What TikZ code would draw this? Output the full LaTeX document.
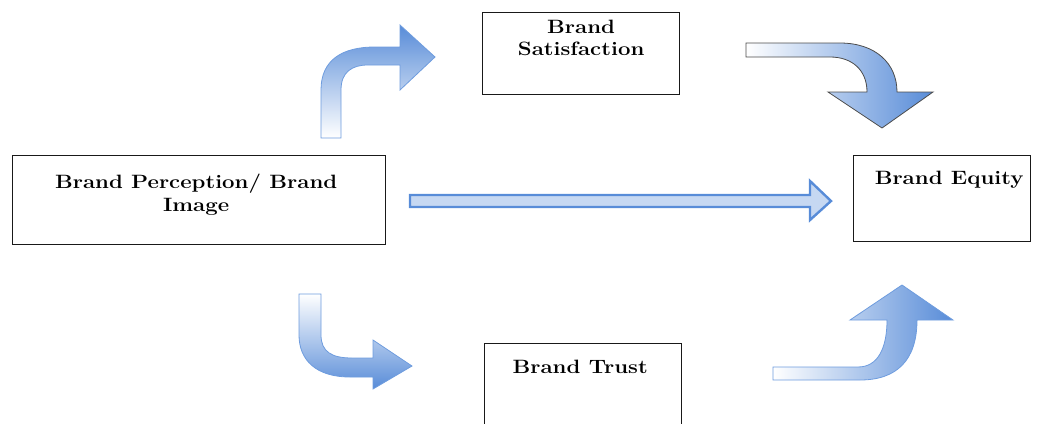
\documentclass[tikz,border=0pt]{standalone}
\usepackage{tikz}
\usetikzlibrary{calc}
\definecolor{flowblue}{RGB}{88,140,216}
\definecolor{flowedge}{RGB}{110,156,222}
\definecolor{flowpale}{RGB}{198,216,242}
\definecolor{boxedge}{RGB}{25,25,25}
\newcommand{\widetext}[1]{\scalebox{1.15}[1]{#1}}
\begin{document}
\begin{tikzpicture}[x=1pt,y=-1pt,
  box/.style={draw=boxedge, line width=1.3pt, rectangle, inner sep=0pt, anchor=north west},
  lbl/.style={font=\fontsize{19.3}{23}\selectfont\bfseries, align=center, inner sep=0pt, anchor=base},
  bendarrow/.style={draw=flowedge, line width=0.8pt, line join=miter},
  darkarrow/.style={draw=black!70, line width=0.8pt, line join=miter},
  straightarrow/.style={draw=flowblue, line width=2.4pt, fill=flowpale, line join=miter}]
\useasboundingbox (0,0) rectangle (1043,423);

% boxes
\node[box, minimum width=373pt, minimum height=89pt] (perc) at (12,155) {};
\node[box, minimum width=197pt, minimum height=82pt] (sat) at (482,12) {};
\node[box, minimum width=177pt, minimum height=86pt] (eq) at (853,155) {};
\node[box, minimum width=197pt, minimum height=95pt] (trust) at (484,343) {};

% labels
\node[lbl] (percA) at ($(perc.north)+(-3,33)$) {\widetext{Brand Perception/ Brand}};
\node[lbl] (percB) at ($(perc.north)+(-3,56)$) {\widetext{Image}};
\node[lbl] (satA) at ($(sat.north)+(0,21)$) {\widetext{Brand}};
\node[lbl] (satB) at ($(sat.north)+(0,43)$) {\widetext{Satisfaction}};
\node[lbl] (eqA) at ($(eq.north)+(7,29)$) {\widetext{Brand Equity}};
\node[lbl] (trustA) at ($(trust.north)+(-3,30)$) {\widetext{Brand Trust}};

% perception -> satisfaction (bend up, then right)
\path[bendarrow, top color=flowblue, bottom color=white]
  (321,138) -- (321,90) .. controls (321,60) and (342,47) .. (375,47)
  -- (400,47) -- (400,25) -- (435,57) -- (400,90) -- (400,65) -- (368,65)
  .. controls (352,65) and (341,72) .. (341,90) -- (341,138) -- cycle;

% satisfaction -> equity (right, then bend down)
\path[darkarrow, left color=white, right color=flowblue]
  (746,43) -- (840,43) .. controls (875,43) and (897,63) .. (897,92)
  -- (933,92) -- (882,128) -- (828,92) -- (867,92)
  .. controls (867,70) and (852,57) .. (830,57) -- (746,57) -- cycle;

% perception -> equity (straight)
\path[straightarrow]
  (410,195) -- (810,195) -- (810,181) -- (831,201) -- (810,220) -- (810,207) -- (410,207) -- cycle;

% perception -> trust (down, then bend right)
\path[bendarrow, top color=white, bottom color=flowblue]
  (299,294) -- (321,294) -- (321,335) .. controls (321,352) and (332,358) .. (352,358)
  -- (373,358) -- (373,340) -- (412,366) -- (373,389) -- (373,377) -- (350,377)
  .. controls (316,377) and (299,360) .. (299,335) -- cycle;

% trust -> equity (right, then bend up)
\path[bendarrow, left color=white, right color=flowblue]
  (773,367) -- (858,367) .. controls (878,367) and (887,348) .. (887,320)
  -- (850,320) -- (902,285) -- (953,320) -- (917,320)
  .. controls (917,360) and (897,380) .. (860,380) -- (773,380) -- cycle;
\end{tikzpicture}
\end{document}
